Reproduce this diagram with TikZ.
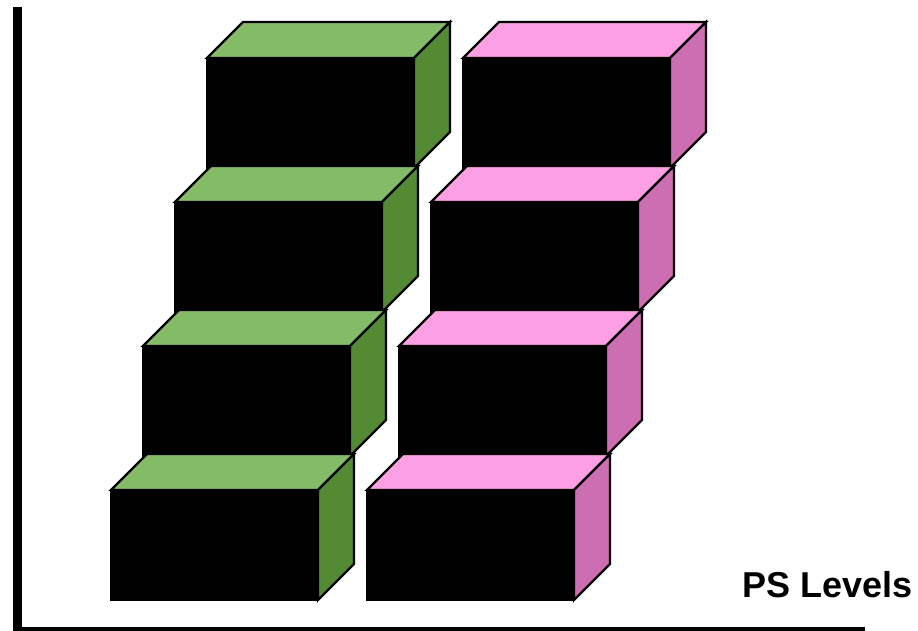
\documentclass[tikz,border=0pt]{standalone}
\usepackage{fontspec}
\setmainfont{Liberation Sans}
\definecolor{gtop}{HTML}{84BB66}
\definecolor{gside}{HTML}{538A33}
\definecolor{ptop}{HTML}{FD9FE4}
\definecolor{pside}{HTML}{CC6EB1}
\newcommand{\drawcube}[4]{%
  % #1,#2 = top-left of front face (px), #3 top colour, #4 side colour
  \fill[black] (#1,#2) rectangle ++(207,110);
  \draw[cubeline,fill=#3] (#1,#2) -- ++(36,-36) -- ++(207,0) -- ++(-36,36) -- cycle;
  \draw[cubeline,fill=#4] (#1+207,#2) -- ++(36,-36) -- ++(0,110) -- ++(-36,36) -- cycle;
  \draw[cubeline] (#1,#2) rectangle ++(207,110);
}
\begin{document}
\begin{tikzpicture}[x=1pt,y=-1pt,
  cubeline/.style={draw=black,line width=2.2pt,line join=miter},
  axisline/.style={draw=black,line width=9pt},
  lbl/.style={font=\bfseries\fontsize{36}{40}\selectfont,inner sep=0pt,anchor=base west}]
\useasboundingbox (0,0) rectangle (918,631);
\begin{scope}
\clip (0,0) rectangle (918,631);
\draw[axisline] (17.5,7) -- (17.5,631.5) -- (865,631.5);
\end{scope}
% rows from top to bottom
\drawcube{207}{58}{gtop}{gside}
\drawcube{463}{58}{ptop}{pside}
\drawcube{175}{202}{gtop}{gside}
\drawcube{431}{202}{ptop}{pside}
\drawcube{143}{346}{gtop}{gside}
\drawcube{399}{346}{ptop}{pside}
\drawcube{111}{490}{gtop}{gside}
\drawcube{367}{490}{ptop}{pside}
\node[lbl] (label) at (742,597) {PS Levels};
\end{tikzpicture}
\end{document}
